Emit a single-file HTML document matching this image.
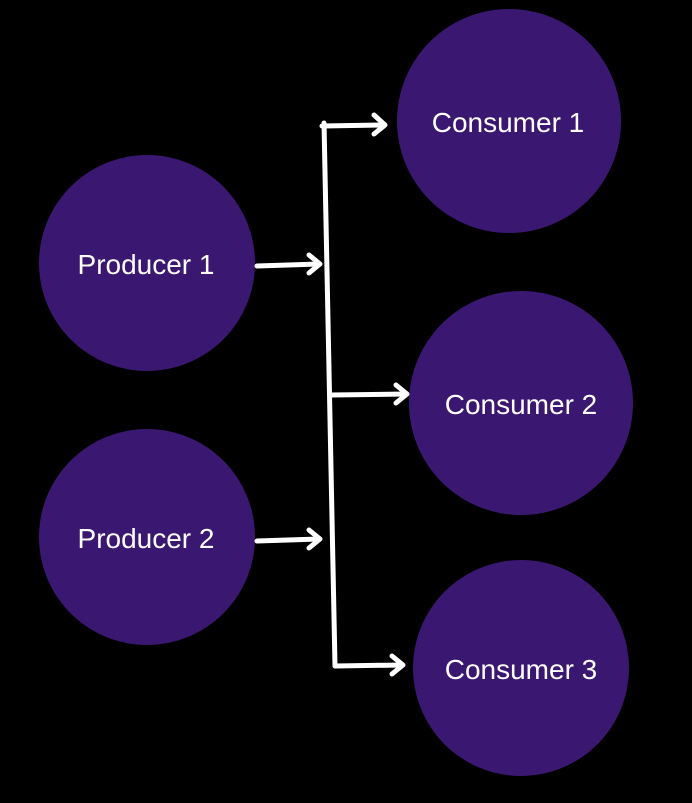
<!DOCTYPE html>
<html><head><style>
html,body{margin:0;padding:0;background:#000;}
</style></head><body>
<svg width="692" height="798" viewBox="0 0 692 798" xmlns="http://www.w3.org/2000/svg">
<rect width="692" height="798" fill="#000"/>
<g fill="#3a1771">
<circle cx="147" cy="263" r="108"/>
<circle cx="147" cy="537" r="108"/>
<circle cx="509" cy="121" r="112"/>
<circle cx="521" cy="403" r="112"/>
<circle cx="521" cy="668" r="108"/>
</g>
<g stroke="#fff" stroke-width="5" fill="none" stroke-linecap="round" stroke-linejoin="round">
<line x1="324" y1="123" x2="335" y2="666"/>
<line x1="322" y1="126" x2="384" y2="125"/>
<polyline points="374,115 385,125 374,134"/>
<line x1="257" y1="266" x2="319" y2="264"/>
<polyline points="309,255 320,264 309,273"/>
<line x1="257" y1="541" x2="319" y2="539"/>
<polyline points="309,530 320,539 309,548"/>
<line x1="331" y1="395" x2="406" y2="394"/>
<polyline points="396,385 407,394 396,403"/>
<line x1="335" y1="666" x2="402" y2="665"/>
<polyline points="392,656 403,665 392,674"/>
</g>
<g fill="#fff" font-family="Liberation Sans, sans-serif" font-size="28" text-anchor="middle">
<text x="146" y="274">Producer 1</text>
<text x="146" y="548">Producer 2</text>
<text x="508" y="132">Consumer 1</text>
<text x="521" y="414">Consumer 2</text>
<text x="521" y="679">Consumer 3</text>
</g>
</svg>
</body></html>
